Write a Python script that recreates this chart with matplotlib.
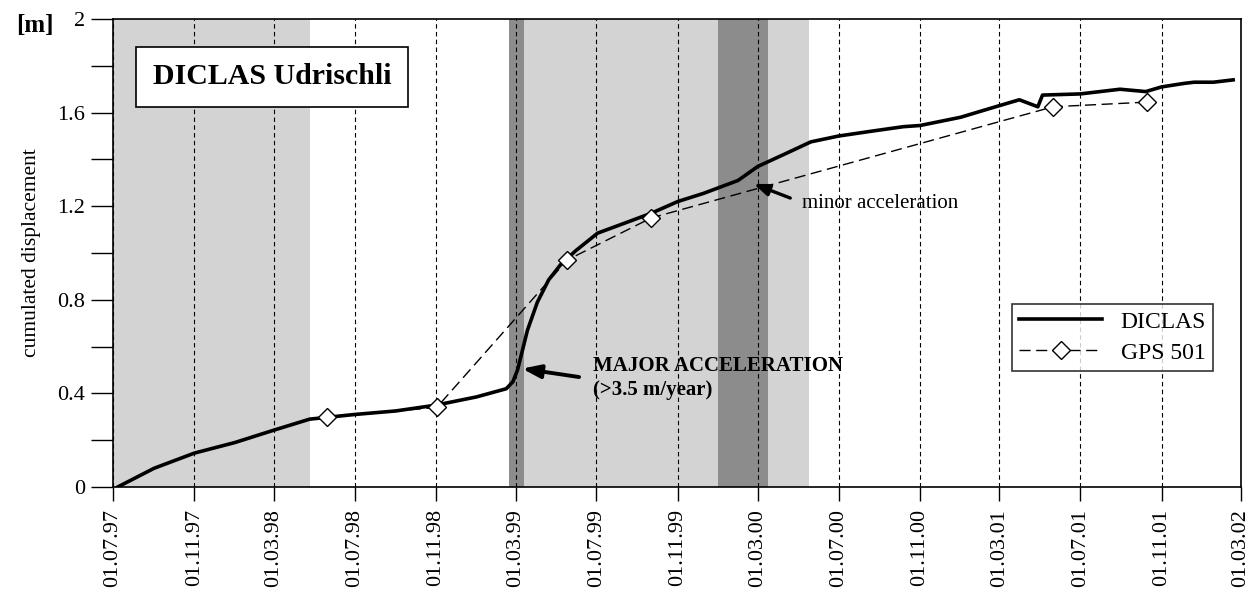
import matplotlib
matplotlib.use("Agg")
import matplotlib.pyplot as plt
import matplotlib.dates as mdates
import numpy as np
import pandas as pd

plt.rcParams['font.family'] = ['Liberation Serif', 'DejaVu Serif']

# DICLAS measurements (cumulated displacement, m)
diclas_dates = ['1997-07-08', '1997-09-01', '1997-11-01', '1998-01-01', '1998-03-01',
                '1998-04-24', '1998-07-01', '1998-09-01', '1998-11-01', '1999-01-01',
                '1999-02-15', '1999-02-25', '1999-03-04', '1999-03-19', '1999-04-03',
                '1999-04-20', '1999-05-08', '1999-05-31', '1999-07-03', '1999-08-15',
                '1999-09-22', '1999-11-01', '1999-12-10', '2000-01-31', '2000-03-01',
                '2000-04-16', '2000-05-20', '2000-07-01', '2000-08-18', '2000-10-07',
                '2000-11-01', '2001-01-01', '2001-03-01', '2001-03-31', '2001-04-28',
                '2001-05-05', '2001-07-01', '2001-08-30', '2001-10-08', '2001-11-01',
                '2001-12-05', '2001-12-20', '2002-01-18', '2002-02-17']
diclas_vals = [0.0, 0.08, 0.145, 0.19, 0.243,
               0.29, 0.31, 0.325, 0.35, 0.385,
               0.42, 0.45, 0.50, 0.67, 0.79,
               0.885, 0.95, 1.01, 1.085, 1.13,
               1.17, 1.22, 1.255, 1.31, 1.37,
               1.43, 1.475, 1.50, 1.52, 1.54,
               1.545, 1.58, 1.63, 1.655, 1.625,
               1.675, 1.68, 1.70, 1.69, 1.71,
               1.725, 1.73, 1.73, 1.74]

# GPS point 501
gps_dates = ['1998-05-20', '1998-11-02', '1999-05-18', '1999-09-22', '2001-05-21', '2001-10-10']
gps_vals = [0.30, 0.34, 0.97, 1.15, 1.625, 1.645]

# periods shaded in the background
light_periods = [('1997-07-01', '1998-04-24'), ('1999-03-14', '2000-01-01'), ('2000-03-16', '2000-05-17')]
dark_periods = [('1999-02-19', '1999-03-14'), ('2000-01-01', '2000-03-16')]

tick_dates = pd.date_range('1997-07-01', '2002-03-01', freq='4MS')

fig = plt.figure(figsize=(12.6, 5.95), dpi=100)
ax = fig.add_axes([0.0897, 0.1815, 0.8953, 0.7865])

for s, e in light_periods:
    ax.axvspan(pd.Timestamp(s), pd.Timestamp(e), color='#d3d3d3', lw=0, zorder=1)
for s, e in dark_periods:
    ax.axvspan(pd.Timestamp(s), pd.Timestamp(e), color='#8c8c8c', lw=0, zorder=1)

ax.plot(pd.to_datetime(diclas_dates), diclas_vals, color='black', lw=2.6,
        solid_joinstyle='round', zorder=3, label='DICLAS')
ax.plot(pd.to_datetime(gps_dates), gps_vals, color='black', lw=1.0, dashes=(8, 4),
        marker='D', markersize=9, markerfacecolor='white', markeredgecolor='black',
        markeredgewidth=1.0, zorder=4, label='GPS 501')

ax.set_xlim(pd.Timestamp('1997-07-01'), pd.Timestamp('2002-03-01'))
ax.set_ylim(0, 2)
ax.set_xticks(tick_dates)
ax.xaxis.set_major_formatter(mdates.DateFormatter('%d.%m.%y'))
ax.set_yticks(np.arange(0, 2.01, 0.4))
ax.set_yticks(np.arange(0.2, 2.0, 0.4), minor=True)
ax.set_yticklabels(['0', '0.4', '0.8', '1.2', '1.6', '2'])
plt.setp(ax.get_xticklabels(), rotation=90)
ax.tick_params(axis='x', direction='out', length=10, width=1, labelsize=16, pad=6)
ax.tick_params(axis='y', which='both', direction='out', length=16, width=1, labelsize=16, pad=4)

ax.set_axisbelow('line')
ax.grid(axis='x', color='black', lw=0.8, dashes=(4, 3))
for sp in ax.spines.values():
    sp.set_linewidth(1.2)

ax.set_ylabel('cumulated displacement', fontsize=15.5, labelpad=12)
fig.text(0.013, 0.957, '[m]', fontsize=18, fontweight='bold', va='center')

ax.text(pd.Timestamp('1997-08-30'), 1.754, 'DICLAS Udrischli', fontsize=21.5, fontweight='bold',
        va='center', ha='left',
        bbox=dict(boxstyle='square,pad=0.55', facecolor='white', edgecolor='black', lw=1.2),
        zorder=6)

# annotation texts and their arrows
ax.text(pd.Timestamp('1999-06-26'), 0.466, 'MAJOR ACCELERATION\n(>3.5 m/year)', fontsize=15,
        fontweight='bold', va='center', ha='left', linespacing=1.25, zorder=6)
ax.annotate('', xy=(pd.Timestamp('1999-03-11'), 0.506), xytext=(pd.Timestamp('1999-06-05'), 0.47),
            arrowprops=dict(arrowstyle='-|>,head_length=1.1,head_width=0.4', color='black',
                            lw=2.8, shrinkA=0, shrinkB=0), zorder=6)
ax.text(pd.Timestamp('2000-05-06'), 1.212, 'minor acceleration', fontsize=15,
        va='center', ha='left', zorder=6)
ax.annotate('', xy=(pd.Timestamp('2000-02-24'), 1.295), xytext=(pd.Timestamp('2000-04-19'), 1.235),
            arrowprops=dict(arrowstyle='-|>,head_length=0.9,head_width=0.35', color='black',
                            lw=2.4, shrinkA=0, shrinkB=0), zorder=6)

leg = ax.legend(loc='upper left', bbox_to_anchor=(0.797, 0.391), fontsize=17,
                frameon=True, fancybox=False, edgecolor='black', handlelength=3.5,
                borderpad=0.3, labelspacing=0.4, handletextpad=0.8, borderaxespad=0)
leg.get_frame().set_linewidth(1.2)
leg.set_zorder(7)

fig.savefig('out.png', dpi=100)
